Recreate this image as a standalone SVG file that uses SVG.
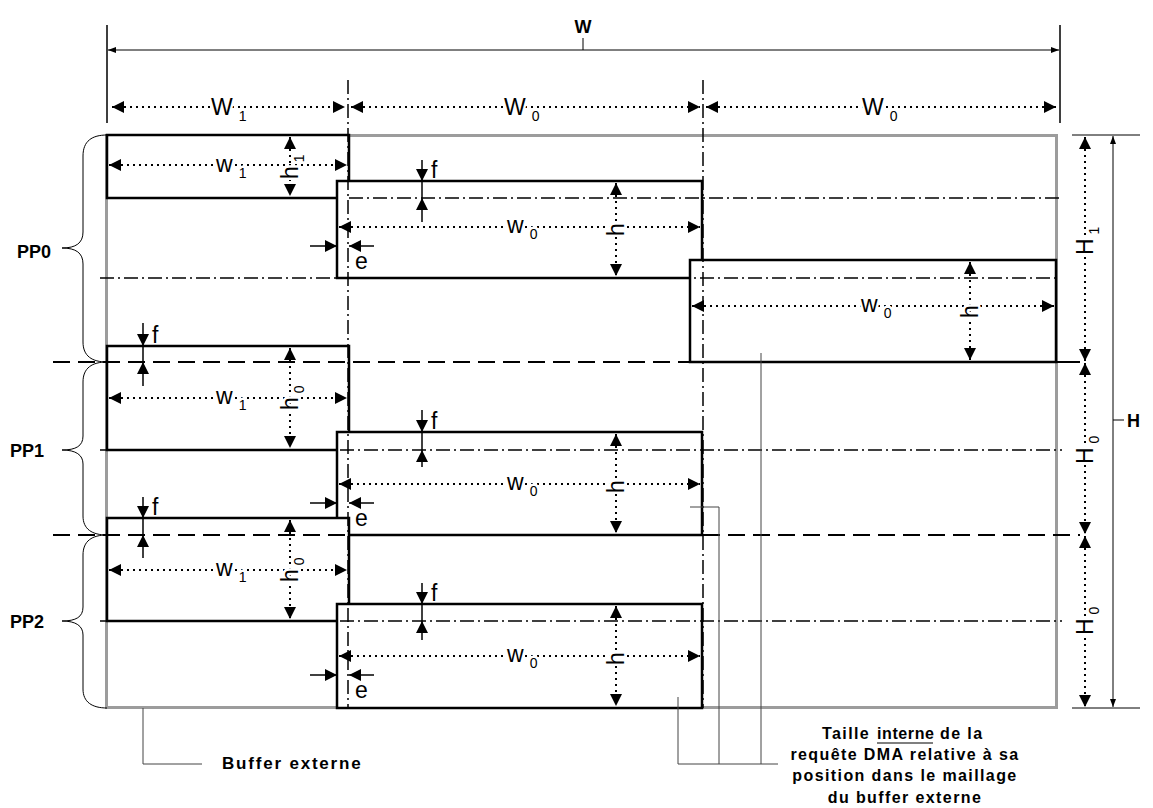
<svg xmlns="http://www.w3.org/2000/svg" width="1153" height="808" viewBox="0 0 1153 808">
<defs>
<marker id="a" viewBox="0 0 12 12" refX="12" refY="6" markerWidth="12" markerHeight="12" markerUnits="userSpaceOnUse" orient="auto-start-reverse"><path d="M0,0L12,6L0,12z" fill="#000"/></marker>
<marker id="s" viewBox="0 0 8 8" refX="8" refY="4" markerWidth="8" markerHeight="8" markerUnits="userSpaceOnUse" orient="auto-start-reverse"><path d="M0,1L8,4L0,7z" fill="#000"/></marker>
</defs>
<style>
.buf{fill:#fff;stroke:#9c9c9c;stroke-width:3}
.r{fill:#fff;stroke:#000;stroke-width:2.5}
.dd{fill:none;stroke:#000;stroke-width:1.5;stroke-dasharray:14 4 2 4}
.ds{fill:none;stroke:#000;stroke-width:2;stroke-dasharray:17 8}
.dt{fill:none;stroke:#000;stroke-width:2;stroke-dasharray:2 4}
.sl{fill:none;stroke:#000;stroke-width:1.5}
.th{fill:none;stroke:#000;stroke-width:1}
.ld{fill:none;stroke:#444;stroke-width:1}
text{font-family:"Liberation Sans",Arial,sans-serif;fill:#000}
.lb,.lf{font-family:"Liberation Sans Narrow","Liberation Sans",Arial,sans-serif;font-size:23px}
.lb{stroke:#fff;stroke-width:5px;paint-order:stroke;stroke-linejoin:round}
.sub{font-size:14px}
.bd{font-weight:bold;font-size:18px}
.nt{font-weight:bold;font-size:16px;letter-spacing:1.4px}
</style>
<rect width="1153" height="808" fill="#fff"/>

<g id="buffer-externe"><rect class="buf" x="106.5" y="135.5" width="950" height="572"/></g>

<g id="R1"><rect class="r" x="107" y="135" width="242" height="63"/></g>
<g id="R2"><rect class="r" x="337" y="181" width="365" height="97"/></g>
<g id="R3"><rect class="r" x="690" y="260" width="366" height="102"/></g>
<g id="R4"><rect class="r" x="107" y="346" width="242" height="104"/></g>
<g id="R5"><rect class="r" x="337" y="432" width="365" height="103"/></g>
<g id="R6"><rect class="r" x="107" y="518" width="242" height="103"/></g>
<g id="R7"><rect class="r" x="337" y="604" width="365" height="104"/></g>

<g id="grid">
<path class="dd" d="M348,80V708M703,80V708"/>
<path class="dd" d="M349,198H1062M100,278H1056M100,450H1062M100,621H1062"/>
<path class="ds" d="M53,362H1056M53,535H1080"/>
<path d="M1056,362H1080" stroke="#000" stroke-width="2"/>
</g>

<g id="braces">
<path class="th" d="M107,135C92,135 83,141 83,156L83,232C83,243 76,248 62,248C76,248 83,253 83,264L83,342C83,356 92,362 107,362"/>
<path class="th" d="M107,362C92,362 83,368 83,382L83,436C83,446 76,450 62,450C76,450 83,455 83,464L83,516C83,529 92,535 107,535"/>
<path class="th" d="M107,535C92,535 83,541 83,555L83,607C83,617 76,621 62,621C76,621 83,626 83,635L83,689C83,702 92,708 107,708"/>
</g>
<g id="pp-labels">
<text class="bd" x="17" y="258">PP0</text>
<text class="bd" x="10" y="457">PP1</text>
<text class="bd" x="10" y="628">PP2</text>
</g>

<g id="dim-W">
<path class="sl" d="M107,25V123M1060,25V123"/>
<path class="th" d="M108,50H1059" marker-start="url(#s)" marker-end="url(#s)"/>
<path class="th" d="M583,38V50"/>
<text class="bd" x="583" y="33" text-anchor="middle">W</text>
<path class="dt" d="M112,107H345" marker-start="url(#a)" marker-end="url(#a)"/>
<path class="dt" d="M351,107H700" marker-start="url(#a)" marker-end="url(#a)"/>
<path class="dt" d="M706,107H1056" marker-start="url(#a)" marker-end="url(#a)"/>
<text class="lb" x="211" y="115">W<tspan class="sub" dx="6" dy="6">1</tspan></text>
<text class="lb" x="504" y="115">W<tspan class="sub" dx="6" dy="6">0</tspan></text>
<text class="lb" x="862" y="115">W<tspan class="sub" dx="6" dy="6">0</tspan></text>
</g>

<g id="dim-H">
<path class="th" d="M1072,135H1140M1072,708H1140"/>
<path class="dt" d="M1085,137V361" marker-start="url(#a)" marker-end="url(#a)"/>
<path class="dt" d="M1085,363V534" marker-start="url(#a)" marker-end="url(#a)"/>
<path class="dt" d="M1085,536V707" marker-start="url(#a)" marker-end="url(#a)"/>
<path class="th" d="M1113,136V707" marker-start="url(#s)" marker-end="url(#s)"/>
<path class="th" d="M1113,420H1124"/>
<text class="bd" x="1127" y="427">H</text>
<text class="lb" transform="translate(1093,255) rotate(-90)">H<tspan class="sub" dx="4" dy="6">1</tspan></text>
<text class="lb" transform="translate(1093,464) rotate(-90)">H<tspan class="sub" dx="4" dy="6">0</tspan></text>
<text class="lb" transform="translate(1093,635) rotate(-90)">H<tspan class="sub" dx="4" dy="6">0</tspan></text>
</g>

<g id="dims-PP0">
<path class="dt" d="M109,165H347" marker-start="url(#a)" marker-end="url(#a)"/>
<path class="dt" d="M290,137V196" marker-start="url(#a)" marker-end="url(#a)"/>
<text class="lb" x="216" y="172">w<tspan class="sub" dx="6" dy="6">1</tspan></text>
<text class="lb" transform="translate(298,179) rotate(-90)">h<tspan class="sub" dx="4" dy="6">1</tspan></text>

<path class="sl" d="M422,160V222"/>
<path d="M416,169H428L422,181zM416,210H428L422,198z" fill="#000"/>
<text class="lf" x="431" y="178">f</text>
<path class="dt" d="M339,227H700" marker-start="url(#a)" marker-end="url(#a)"/>
<path class="dt" d="M616,183V276" marker-start="url(#a)" marker-end="url(#a)"/>
<text class="lb" x="507" y="233">w<tspan class="sub" dx="6" dy="6">0</tspan></text>
<text class="lb" transform="translate(624,236) rotate(-90)">h</text>
<path class="sl" d="M310,246H337" marker-end="url(#a)"/>
<path class="sl" d="M374,246H349" marker-end="url(#a)"/>
<text class="lf" x="355" y="269">e</text>

<path class="dt" d="M692,306H1054" marker-start="url(#a)" marker-end="url(#a)"/>
<path class="dt" d="M970,262V360" marker-start="url(#a)" marker-end="url(#a)"/>
<text class="lb" x="861" y="312">w<tspan class="sub" dx="6" dy="6">0</tspan></text>
<text class="lb" transform="translate(978,318) rotate(-90)">h</text>
</g>

<g id="dims-PP1">
<path class="sl" d="M143,323V386"/>
<path d="M137,334H149L143,346zM137,374H149L143,362z" fill="#000"/>
<text class="lf" x="152" y="343">f</text>
<path class="dt" d="M109,398H347" marker-start="url(#a)" marker-end="url(#a)"/>
<path class="dt" d="M290,348V448" marker-start="url(#a)" marker-end="url(#a)"/>
<text class="lb" x="216" y="404">w<tspan class="sub" dx="6" dy="6">1</tspan></text>
<text class="lb" transform="translate(298,410) rotate(-90)">h<tspan class="sub" dx="4" dy="6">0</tspan></text>

<path class="sl" d="M422,410V467"/>
<path d="M416,420H428L422,432zM416,462H428L422,450z" fill="#000"/>
<text class="lf" x="431" y="429">f</text>
<path class="dt" d="M339,484H700" marker-start="url(#a)" marker-end="url(#a)"/>
<path class="dt" d="M616,434V533" marker-start="url(#a)" marker-end="url(#a)"/>
<text class="lb" x="507" y="490">w<tspan class="sub" dx="6" dy="6">0</tspan></text>
<text class="lb" transform="translate(624,493) rotate(-90)">h</text>
<path class="sl" d="M310,503H337" marker-end="url(#a)"/>
<path class="sl" d="M374,503H349" marker-end="url(#a)"/>
<text class="lf" x="355" y="526">e</text>
</g>

<g id="dims-PP2">
<path class="sl" d="M143,497V558"/>
<path d="M137,506H149L143,518zM137,547H149L143,535z" fill="#000"/>
<text class="lf" x="152" y="515">f</text>
<path class="dt" d="M109,570H347" marker-start="url(#a)" marker-end="url(#a)"/>
<path class="dt" d="M290,520V619" marker-start="url(#a)" marker-end="url(#a)"/>
<text class="lb" x="216" y="576">w<tspan class="sub" dx="6" dy="6">1</tspan></text>
<text class="lb" transform="translate(298,582) rotate(-90)">h<tspan class="sub" dx="4" dy="6">0</tspan></text>

<path class="sl" d="M422,583V640"/>
<path d="M416,592H428L422,604zM416,633H428L422,621z" fill="#000"/>
<text class="lf" x="431" y="601">f</text>
<path class="dt" d="M339,656H700" marker-start="url(#a)" marker-end="url(#a)"/>
<path class="dt" d="M616,606V706" marker-start="url(#a)" marker-end="url(#a)"/>
<text class="lb" x="507" y="662">w<tspan class="sub" dx="6" dy="6">0</tspan></text>
<text class="lb" transform="translate(624,665) rotate(-90)">h</text>
<path class="sl" d="M310,675H337" marker-end="url(#a)"/>
<path class="sl" d="M374,675H349" marker-end="url(#a)"/>
<text class="lf" x="355" y="698">e</text>
</g>

<g id="connectors">
<path class="ld" d="M143,708V764H202"/>
<path class="ld" d="M690,507H719V764"/>
<path class="ld" d="M761,353V764"/>
<path class="ld" d="M678,697V764H778"/>
</g>

<g id="notes">
<text class="nt" x="222" y="769" style="font-size:17px;letter-spacing:1.8px">Buffer externe</text>
<text class="nt" y="739"><tspan x="822">Taille</tspan><tspan x="877" style="letter-spacing:0.6px">interne</tspan><tspan x="940">de la</tspan></text>
<path d="M877,743H933" stroke="#000" stroke-width="1.2"/>
<text class="nt" x="905" y="760" text-anchor="middle">requête DMA relative à sa</text>
<text class="nt" x="905" y="781" text-anchor="middle">position dans le maillage</text>
<text class="nt" x="905" y="803" text-anchor="middle">du buffer externe</text>
</g>
</svg>
